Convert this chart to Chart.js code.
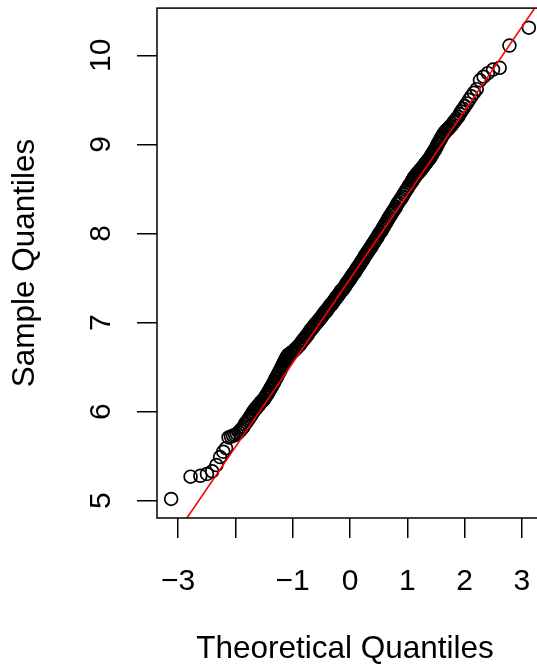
<!DOCTYPE html>
<html><head><meta charset="utf-8">
<script src="https://cdn.jsdelivr.net/npm/chart.js@4.4.1/dist/chart.umd.min.js"></script>
<style>
html,body{margin:0;padding:0;background:#fff;overflow:hidden;width:537px;height:668px;}
#wrap{position:absolute;left:0;top:0;width:560px;height:668px;}
canvas{display:block;}
</style></head><body>
<div id="wrap"><canvas id="c" width="560" height="668"></canvas></div>
<script>
const theoreticalQuantiles = [
-3.121,-2.782,-2.612,-2.496,-2.405,-2.331,-2.268,-2.212,-2.163,-2.118,-2.077,-2.040,-2.005,-1.973,-1.942,-1.913,-1.886,-1.860,-1.835,-1.811,-1.788,-1.766,-1.745,-1.725,-1.705,-1.687,-1.668,-1.650,
-1.635,-1.616,-1.598,-1.580,-1.563,-1.546,-1.530,-1.514,-1.499,-1.483,-1.468,-1.454,-1.440,-1.426,-1.412,-1.398,-1.385,-1.372,-1.360,-1.347,-1.335,-1.323,-1.311,-1.299,-1.287,-1.276,-1.265,-1.254,-1.243,-1.232,-1.221,-1.211,-1.200,-1.190,-1.180,-1.170,-1.160,-1.150,-1.141,-1.131,-1.122,-1.112,-1.103,-1.094,-1.085,-1.076,
-1.058,-1.032,-1.007,-0.982,-0.958,-0.935,-0.911,-0.889,-0.867,-0.845,-0.824,-0.803,-0.782,-0.762,-0.742,-0.722,-0.703,-0.684,-0.665,-0.646,-0.628,-0.610,-0.592,-0.574,-0.556,-0.539,-0.522,-0.504,-0.487,-0.471,-0.454,-0.437,-0.421,-0.405,-0.388,-0.372,-0.356,-0.340,-0.324,-0.308,-0.292,-0.277,-0.261,-0.246,-0.230,-0.215,-0.199,-0.184,-0.169,-0.154,-0.138,-0.123,-0.108,-0.093,-0.078,-0.063,-0.048,-0.033,-0.018,-0.003,
0.003,0.018,0.033,0.048,0.063,0.078,0.093,0.108,0.123,0.138,0.154,0.169,0.184,0.199,0.215,0.230,0.246,0.261,0.277,0.292,0.308,0.324,0.340,0.356,0.372,0.388,0.405,0.421,0.437,0.454,0.471,0.487,0.504,0.522,0.539,0.556,0.574,0.592,0.610,0.628,0.646,0.665,0.684,0.703,0.722,0.742,0.762,0.782,0.803,0.824,0.845,0.867,0.889,0.911,0.935,0.958,0.982,1.007,1.032,1.058,
1.076,1.085,1.094,1.103,1.112,1.122,1.131,1.141,1.150,1.160,1.170,1.180,1.190,1.200,1.211,1.221,1.232,1.243,1.254,1.265,1.276,1.287,1.299,1.311,1.323,1.335,1.347,1.360,1.372,1.385,1.398,1.412,1.426,1.440,1.454,1.468,1.483,1.499,1.514,1.530,1.546,1.563,1.580,1.598,1.616,1.635,
1.650,1.668,1.687,1.705,1.725,1.745,1.766,1.788,1.811,1.835,1.860,1.886,1.913,1.942,1.973,2.005,2.040,2.077,2.118,2.163,2.212,2.268,2.331,2.405,2.496,2.612,2.782,3.121
];
const sampleQuantiles = [
5.02,5.27,5.28,5.30,5.33,5.40,5.49,5.55,5.59,5.71,5.72,5.73,5.74,5.75,5.77,5.79,5.81,5.83,5.86,5.88,5.90,5.92,5.94,5.96,5.98,6.00,6.02,6.03,
6.04,6.06,6.07,6.08,6.10,6.11,6.12,6.13,6.14,6.16,6.17,6.19,6.20,6.22,6.23,6.25,6.26,6.28,6.29,6.31,6.32,6.33,6.35,6.37,6.38,6.39,6.41,6.42,6.43,6.45,6.46,6.47,6.49,6.50,6.51,6.53,6.54,6.55,6.56,6.58,6.59,6.60,6.61,6.62,6.63,6.64,
6.64,6.66,6.67,6.68,6.70,6.71,6.73,6.74,6.76,6.78,6.80,6.81,6.83,6.85,6.86,6.88,6.90,6.92,6.93,6.95,6.96,6.98,6.99,7.00,7.02,7.03,7.04,7.06,7.07,7.09,7.10,7.12,7.12,7.14,7.15,7.17,7.18,7.20,7.20,7.22,7.23,7.25,7.26,7.28,7.28,7.30,7.31,7.33,7.34,7.36,7.36,7.37,7.39,7.40,7.42,7.43,7.45,7.46,7.47,7.49,
7.49,7.51,7.52,7.54,7.55,7.56,7.58,7.59,7.61,7.62,7.64,7.65,7.67,7.68,7.70,7.71,7.73,7.75,7.76,7.78,7.79,7.81,7.82,7.84,7.85,7.87,7.89,7.90,7.92,7.94,7.95,7.97,7.99,8.01,8.02,8.04,8.06,8.08,8.10,8.12,8.14,8.16,8.18,8.20,8.22,8.24,8.26,8.28,8.30,8.33,8.35,8.37,8.39,8.41,8.44,8.46,8.49,8.51,8.54,8.56,
8.58,8.59,8.60,8.61,8.62,8.63,8.64,8.64,8.65,8.66,8.67,8.68,8.68,8.69,8.70,8.71,8.71,8.72,8.73,8.74,8.75,8.76,8.77,8.78,8.79,8.80,8.81,8.82,8.83,8.84,8.85,8.87,8.88,8.90,8.91,8.93,8.94,8.96,8.98,9.00,9.02,9.04,9.06,9.08,9.10,9.12,
9.13,9.15,9.16,9.17,9.18,9.20,9.21,9.23,9.25,9.27,9.29,9.31,9.34,9.37,9.40,9.43,9.46,9.50,9.54,9.58,9.62,9.72,9.76,9.80,9.84,9.86,10.11,10.31
];
const xTickValues = [-3,-2,-1,0,1,2,3];
const xTickLabels = ['\u22123','','\u22121','0','1','2','3'];
const yTickValues = [5,6,7,8,9,10];
const yTickLabels = ['5','6','7','8','9','10'];
const qqLineIntercept = 7.49;
const qqLineSlope = 0.943;
const xTitle = 'Theoretical Quantiles';
const yTitle = 'Sample Quantiles';

const points = theoreticalQuantiles.map((x, i) => ({x: x, y: sampleQuantiles[i]}));
const lineEnds = [-4, 4].map(x => ({x: x, y: qqLineIntercept + qqLineSlope * x}));

const FONT = '"Liberation Sans", Arial, Helvetica, sans-serif';

const rAxes = {
  id: 'rAxes',
  afterDraw(chart) {
    const ctx = chart.ctx, ca = chart.chartArea;
    const xs = chart.scales.x, ys = chart.scales.y;
    ctx.save();
    ctx.strokeStyle = '#000';
    ctx.lineWidth = 1.5;
    ctx.strokeRect(ca.left, ca.top, ca.right - ca.left, ca.bottom - ca.top);
    ctx.fillStyle = '#000';
    ctx.font = '30px ' + FONT;
    ctx.textAlign = 'center';
    ctx.textBaseline = 'alphabetic';
    xTickValues.forEach((v, i) => {
      ctx.fillText(xTickLabels[i], xs.getPixelForValue(v), ca.bottom + 71.5);
    });
    yTickValues.forEach((v, i) => {
      ctx.save();
      ctx.translate(ca.left - 47, ys.getPixelForValue(v));
      ctx.rotate(-Math.PI / 2);
      ctx.fillText(yTickLabels[i], 0, 0);
      ctx.restore();
    });
    ctx.font = '31.5px ' + FONT;
    ctx.fillText(xTitle, xs.getPixelForValue(0) - 5, ca.bottom + 139.5);
    ctx.save();
    ctx.translate(ca.left - 123.5, (ca.top + ca.bottom) / 2);
    ctx.rotate(-Math.PI / 2);
    ctx.fillText(yTitle, 0, 0);
    ctx.restore();
    ctx.restore();
  }
};

new Chart(document.getElementById('c'), {
  type: 'scatter',
  data: {
    datasets: [
      {
        type: 'line',
        data: lineEnds,
        borderColor: '#ff0000',
        borderWidth: 1.6,
        pointRadius: 0,
        fill: false,
        order: 0
      },
      {
        data: points,
        pointStyle: 'circle',
        pointRadius: 6.4,
        borderWidth: 1.7,
        borderColor: '#000000',
        backgroundColor: 'rgba(0,0,0,0)',
        order: 1
      }
    ]
  },
  options: {
    responsive: false,
    animation: false,
    devicePixelRatio: 1,
    events: [],
    layout: {padding: {left: 0, top: 8, right: 17, bottom: 0}},
    plugins: {legend: {display: false}, tooltip: {enabled: false}},
    scales: {
      x: {
        type: 'linear',
        min: -3.368, max: 3.368,
        afterBuildTicks: s => { s.ticks = xTickValues.map(v => ({value: v})); },
        afterFit: s => { s.height = 150; },
        ticks: {display: false},
        border: {display: false},
        grid: {display: true, drawOnChartArea: false, drawTicks: true, tickLength: 20, color: '#000', lineWidth: 1.5}
      },
      y: {
        type: 'linear',
        min: 4.806, max: 10.53,
        afterBuildTicks: s => { s.ticks = yTickValues.map(v => ({value: v})); },
        afterFit: s => { s.width = 157; },
        ticks: {display: false},
        border: {display: false},
        grid: {display: true, drawOnChartArea: false, drawTicks: true, tickLength: 20, color: '#000', lineWidth: 1.5}
      }
    }
  },
  plugins: [rAxes]
});
</script>
</body></html>
